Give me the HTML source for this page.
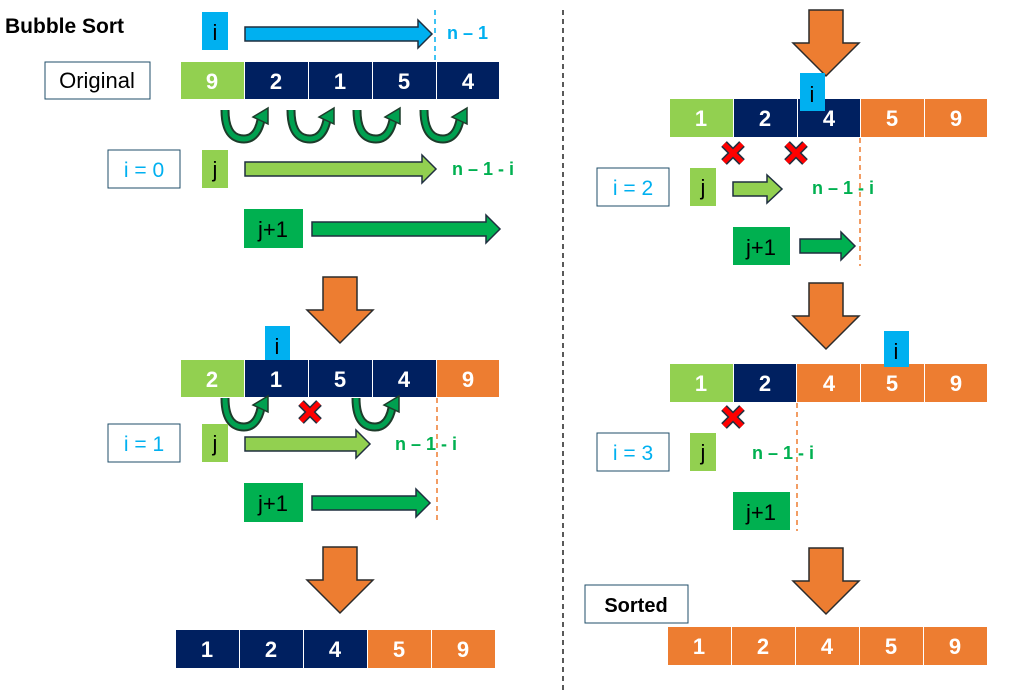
<!DOCTYPE html>
<html><head><meta charset="utf-8"><style>
html,body{margin:0;padding:0;background:#fff;}
svg{display:block;font-family:"Liberation Sans","DejaVu Sans",sans-serif;}
.cell{font-size:22px;font-weight:bold;fill:#fff;text-anchor:middle;}
.lbl{font-size:22px;fill:#000;text-anchor:middle;}
.it{font-size:21px;fill:#00b0f0;text-anchor:middle;}
.gt{font-size:18px;font-weight:bold;fill:#00b050;}
</style></head><body>
<svg width="1020" height="690" viewBox="0 0 1020 690" xmlns="http://www.w3.org/2000/svg">
<defs>
<g id="curve">
<path d="M4,2 C4,26 14,31 23,31 C33,31 38,22 40,12" fill="none" stroke="#1d3b2a" stroke-width="9"/>
<path d="M4,2 C4,26 14,31 23,31 C33,31 38,22 40,12" fill="none" stroke="#00a050" stroke-width="5"/>
<polygon points="47,0 32,9 47,16" fill="#00a050" stroke="#1d3b2a" stroke-width="1.5"/>
</g>
<g id="xm">
<path d="M-9,-9 L9,9 M9,-9 L-9,9" stroke="#1f2f3f" stroke-width="8"/>
<path d="M-9,-9 L9,9 M9,-9 L-9,9" stroke="#ff0000" stroke-width="5"/>
</g>
<polygon id="down" points="-17,0 17,0 17,33 33,33 0,66 -33,33 -17,33" fill="#ed7d31" stroke="#2b2b2b" stroke-width="1.5"/>
</defs>

<!-- divider -->
<line x1="563" y1="10" x2="563" y2="690" stroke="#222" stroke-width="1.5" stroke-dasharray="5,4"/>

<!-- LEFT -->
<text x="5" y="33" font-size="21" font-weight="bold" fill="#000">Bubble Sort</text>
<rect x="202" y="12" width="26" height="38" fill="#00b0f0"/><text x="215" y="40" class="lbl">i</text>
<polygon points="245,27 418,27 418,20 432,34 418,48 418,41 245,41" fill="#00b0f0" stroke="#1f2f3f" stroke-width="1.5"/>
<line x1="435" y1="10" x2="435" y2="62" stroke="#00b0f0" stroke-width="1.5" stroke-dasharray="5,4"/>
<text x="447" y="39" font-size="18" font-weight="bold" fill="#00b0f0">n – 1</text>

<rect x="45" y="62" width="105" height="37" fill="#fff" stroke="#1f4e69" stroke-width="1"/>
<text x="97" y="88" class="lbl" font-size="21">Original</text>
<rect x="181" y="62" width="63" height="37" fill="#92d050"/><text x="212" y="89" class="cell">9</text>
<rect x="245" y="62" width="63" height="37" fill="#002060"/><text x="276" y="89" class="cell">2</text>
<rect x="309" y="62" width="63" height="37" fill="#002060"/><text x="340" y="89" class="cell">1</text>
<rect x="373" y="62" width="63" height="37" fill="#002060"/><text x="404" y="89" class="cell">5</text>
<rect x="437" y="62" width="62" height="37" fill="#002060"/><text x="468" y="89" class="cell">4</text>
<use href="#curve" x="221" y="108"/><use href="#curve" x="287" y="108"/><use href="#curve" x="353" y="108"/><use href="#curve" x="420" y="108"/>

<rect x="108" y="150" width="72" height="38" fill="#fff" stroke="#1f4e69"/><text x="144" y="177" class="it">i = 0</text>
<rect x="202" y="150" width="26" height="38" fill="#92d050"/><text x="215" y="177" class="lbl">j</text>
<polygon points="245,162 422,162 422,155 436,169 422,183 422,176 245,176" fill="#92d050" stroke="#1f2f3f" stroke-width="1.5"/>
<text x="452" y="175" class="gt">n – 1 - i</text>
<rect x="244" y="209" width="59" height="39" fill="#00b050"/><text x="273" y="237" class="lbl">j+1</text>
<polygon points="312,222 486,222 486,215 500,229 486,243 486,236 312,236" fill="#00b050" stroke="#1f2f3f" stroke-width="1.5"/>

<use href="#down" x="340" y="277"/>

<rect x="265" y="326" width="25" height="36" fill="#00b0f0"/>
<rect x="181" y="360" width="63" height="37" fill="#92d050"/><text x="212" y="387" class="cell">2</text>
<rect x="245" y="360" width="63" height="37" fill="#002060"/><text x="276" y="387" class="cell">1</text>
<rect x="309" y="360" width="63" height="37" fill="#002060"/><text x="340" y="387" class="cell">5</text>
<rect x="373" y="360" width="63" height="37" fill="#002060"/><text x="404" y="387" class="cell">4</text>
<rect x="437" y="360" width="62" height="37" fill="#ed7d31"/><text x="468" y="387" class="cell">9</text>
<text x="277" y="354" class="lbl">i</text>
<use href="#curve" x="221" y="396"/><use href="#curve" x="352" y="396"/>
<use href="#xm" x="310" y="412"/>
<line x1="437" y1="398" x2="437" y2="522" stroke="#ed7d31" stroke-width="1.5" stroke-dasharray="5,4"/>
<rect x="108" y="424" width="72" height="38" fill="#fff" stroke="#1f4e69"/><text x="144" y="451" class="it">i = 1</text>
<rect x="202" y="424" width="26" height="38" fill="#92d050"/><text x="215" y="451" class="lbl">j</text>
<polygon points="245,437 356,437 356,430 370,444 356,458 356,451 245,451" fill="#92d050" stroke="#1f2f3f" stroke-width="1.5"/>
<text x="395" y="450" class="gt">n – 1 - i</text>
<rect x="244" y="483" width="59" height="39" fill="#00b050"/><text x="273" y="511" class="lbl">j+1</text>
<polygon points="312,496 416,496 416,489 430,503 416,517 416,510 312,510" fill="#00b050" stroke="#1f2f3f" stroke-width="1.5"/>

<use href="#down" x="340" y="547"/>
<rect x="176" y="630" width="63" height="38" fill="#002060"/><text x="207" y="657" class="cell">1</text>
<rect x="240" y="630" width="63" height="38" fill="#002060"/><text x="271" y="657" class="cell">2</text>
<rect x="304" y="630" width="63" height="38" fill="#002060"/><text x="335" y="657" class="cell">4</text>
<rect x="368" y="630" width="63" height="38" fill="#ed7d31"/><text x="399" y="657" class="cell">5</text>
<rect x="432" y="630" width="63" height="38" fill="#ed7d31"/><text x="463" y="657" class="cell">9</text>

<!-- RIGHT -->
<use href="#down" x="826" y="10"/>
<rect x="670" y="99" width="63" height="38" fill="#92d050"/><text x="701" y="126" class="cell">1</text>
<rect x="734" y="99" width="63" height="38" fill="#002060"/><text x="765" y="126" class="cell">2</text>
<rect x="798" y="99" width="62" height="38" fill="#002060"/><text x="829" y="126" class="cell">4</text>
<rect x="861" y="99" width="63" height="38" fill="#ed7d31"/><text x="892" y="126" class="cell">5</text>
<rect x="925" y="99" width="62" height="38" fill="#ed7d31"/><text x="956" y="126" class="cell">9</text>
<rect x="800" y="73" width="25" height="38" fill="#00b0f0"/><text x="812" y="102" class="lbl">i</text>
<use href="#xm" x="733" y="153"/><use href="#xm" x="796" y="153"/>
<line x1="860" y1="138" x2="860" y2="266" stroke="#ed7d31" stroke-width="1.5" stroke-dasharray="5,4"/>
<rect x="597" y="168" width="72" height="38" fill="#fff" stroke="#1f4e69"/><text x="633" y="195" class="it">i = 2</text>
<rect x="690" y="168" width="26" height="38" fill="#92d050"/><text x="703" y="195" class="lbl">j</text>
<polygon points="733,182 767,182 767,175 782,189 767,203 767,196 733,196" fill="#92d050" stroke="#1f2f3f" stroke-width="1.5"/>
<text x="812" y="194" class="gt">n – 1 - i</text>
<rect x="733" y="227" width="57" height="38" fill="#00b050"/><text x="761" y="255" class="lbl">j+1</text>
<polygon points="800,239 841,239 841,232 855,246 841,260 841,253 800,253" fill="#00b050" stroke="#1f2f3f" stroke-width="1.5"/>

<use href="#down" x="826" y="283"/>
<rect x="670" y="364" width="63" height="38" fill="#92d050"/><text x="701" y="391" class="cell">1</text>
<rect x="734" y="364" width="62" height="38" fill="#002060"/><text x="765" y="391" class="cell">2</text>
<rect x="797" y="364" width="63" height="38" fill="#ed7d31"/><text x="829" y="391" class="cell">4</text>
<rect x="861" y="364" width="63" height="38" fill="#ed7d31"/><text x="892" y="391" class="cell">5</text>
<rect x="925" y="364" width="62" height="38" fill="#ed7d31"/><text x="956" y="391" class="cell">9</text>
<rect x="884" y="331" width="25" height="36" fill="#00b0f0"/><text x="896" y="359" class="lbl">i</text>
<use href="#xm" x="733" y="417"/>
<line x1="797" y1="403" x2="797" y2="531" stroke="#ed7d31" stroke-width="1.5" stroke-dasharray="5,4"/>
<rect x="597" y="433" width="72" height="38" fill="#fff" stroke="#1f4e69"/><text x="633" y="460" class="it">i = 3</text>
<rect x="690" y="433" width="26" height="38" fill="#92d050"/><text x="703" y="460" class="lbl">j</text>
<text x="752" y="459" class="gt">n – 1 - i</text>
<rect x="733" y="492" width="57" height="38" fill="#00b050"/><text x="761" y="520" class="lbl">j+1</text>

<use href="#down" x="826" y="548"/>
<rect x="585" y="585" width="103" height="38" fill="#fff" stroke="#1f4e69"/>
<text x="636" y="612" font-size="20" font-weight="bold" text-anchor="middle" fill="#000">Sorted</text>
<rect x="668" y="627" width="63" height="38" fill="#ed7d31"/><text x="699" y="654" class="cell">1</text>
<rect x="732" y="627" width="63" height="38" fill="#ed7d31"/><text x="763" y="654" class="cell">2</text>
<rect x="796" y="627" width="63" height="38" fill="#ed7d31"/><text x="827" y="654" class="cell">4</text>
<rect x="860" y="627" width="63" height="38" fill="#ed7d31"/><text x="891" y="654" class="cell">5</text>
<rect x="924" y="627" width="63" height="38" fill="#ed7d31"/><text x="955" y="654" class="cell">9</text>
</svg>
</body></html>
